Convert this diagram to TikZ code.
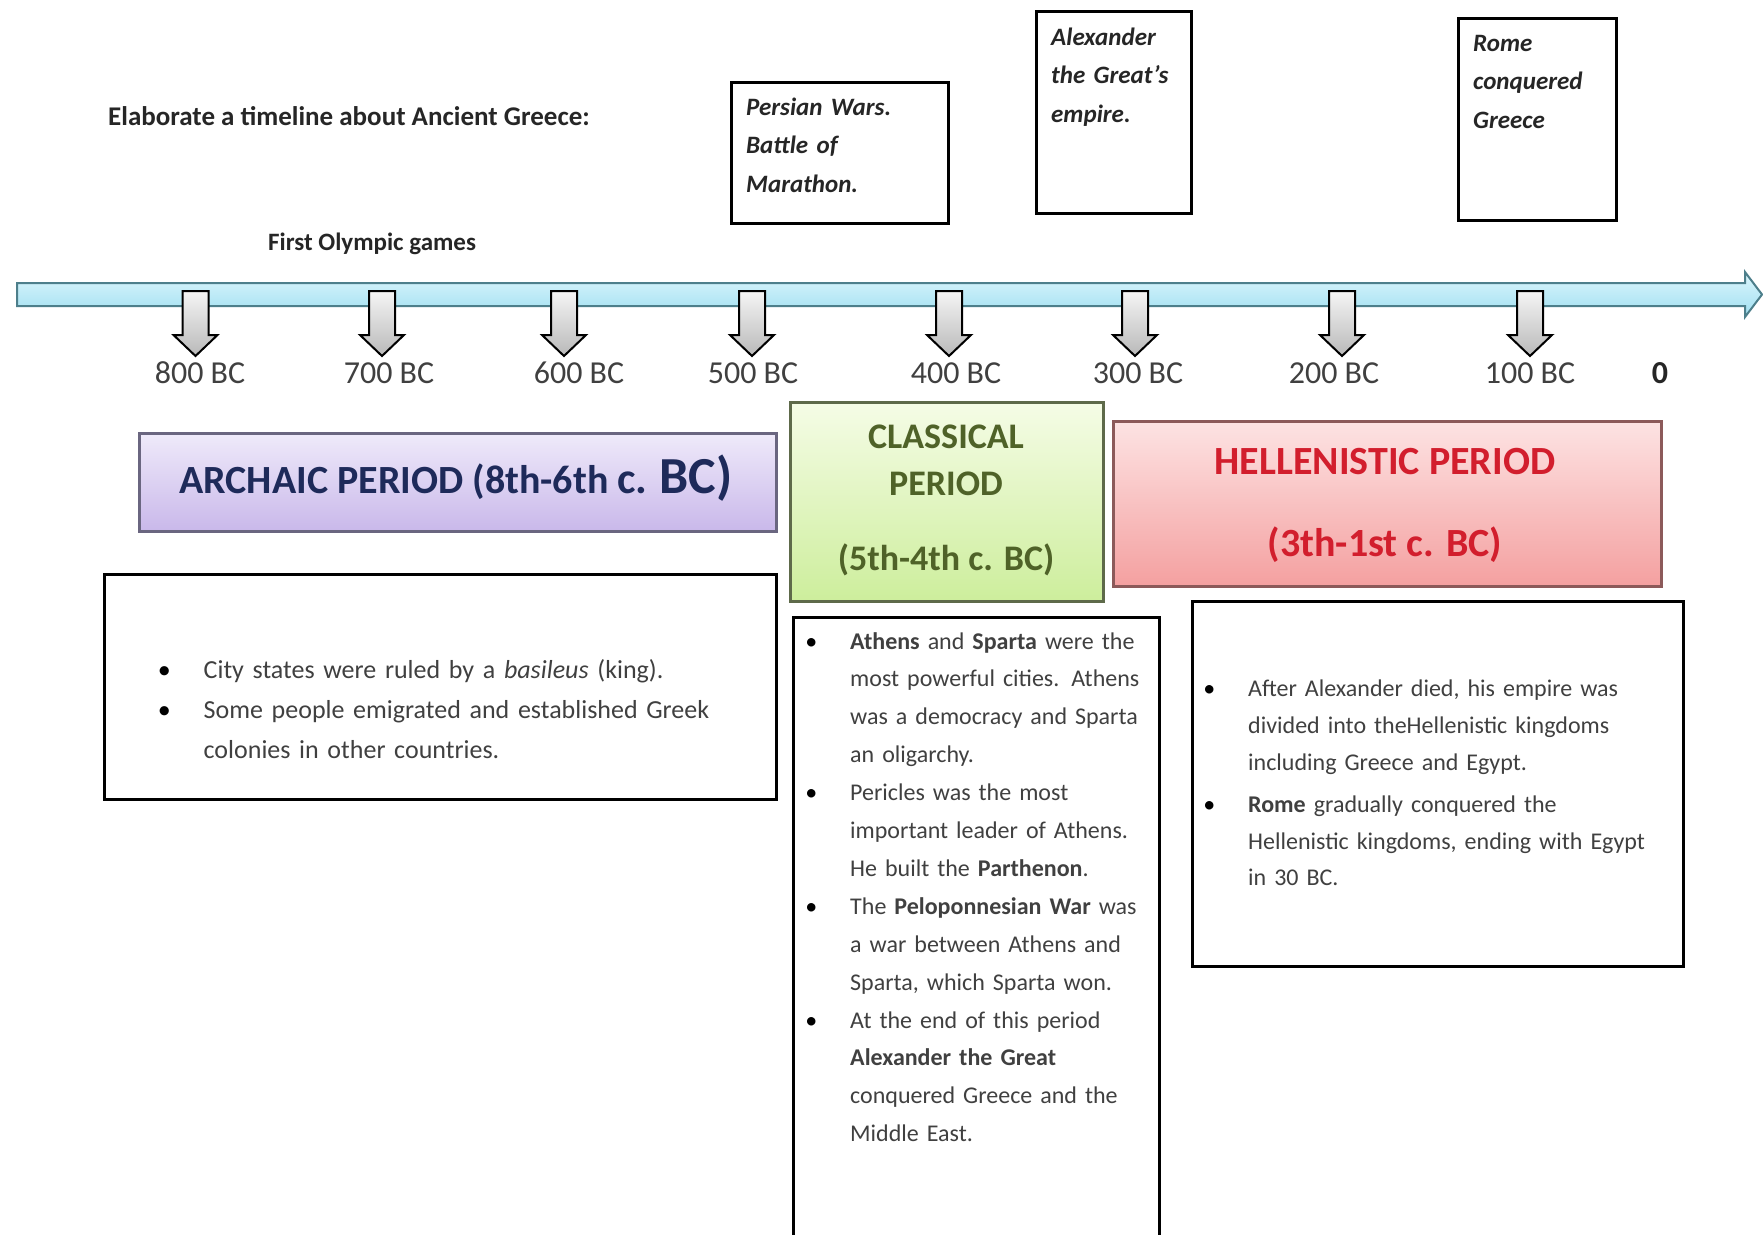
\documentclass[tikz,border=0pt]{standalone}
\usepackage{fontspec}
\setmainfont{Carlito}
\usetikzlibrary{shadings}
\definecolor{bandtop}{HTML}{DDF6FC}
\definecolor{bandbot}{HTML}{9FDFF1}
\definecolor{bandline}{HTML}{4D7F8B}
\definecolor{txtgray}{HTML}{404040}
\definecolor{txtdark}{HTML}{262626}
\definecolor{archtxt}{HTML}{1E2A5A}
\definecolor{classtxt}{HTML}{4F6228}
\definecolor{helltxt}{HTML}{D21E2D}
\definecolor{archtop}{HTML}{EFEAFA}
\definecolor{archbot}{HTML}{C9B8EA}
\definecolor{archline}{HTML}{6A6680}
\definecolor{classtop}{HTML}{F5FCE6}
\definecolor{classbot}{HTML}{CDEE9C}
\definecolor{classline}{HTML}{5E6A4A}
\definecolor{helltop}{HTML}{FDE3E3}
\definecolor{hellbot}{HTML}{F4A0A0}
\definecolor{hellline}{HTML}{8C5A5A}
\newcommand{\fs}[2]{\fontsize{#1}{#2}\selectfont}
\newcommand{\bul}{\leavevmode\llap{\textcolor{black}{\textbullet}\hspace{33pt}}}
\tikzset{
  evbox/.style={draw=black, line width=2.5pt, fill=white, inner sep=0pt, anchor=north west},
  evtext/.style={font=\fs{25}{38.5}\bfseries\itshape, text=txtdark, align=left, text width=200pt, inner sep=0pt, anchor=base west},
  txtbox/.style={draw=black, line width=2.5pt, fill=white, inner sep=0pt, anchor=north west},
  bodytxt/.style={font=\fs{24}{37.9}, text=txtgray, align=left, text width=600pt, inner sep=0pt, anchor=base west},
  yearlab/.style={font=\fs{32}{36}, text=txtgray, inner sep=0pt, anchor=base},
  downarrow/.style={draw=black, line width=2pt, top color=gray!8, bottom color=gray!55},
  band/.style={draw=bandline, line width=2pt, top color=bandtop, bottom color=bandbot},
  archbox/.style={draw=archline, line width=2.5pt, top color=archtop, bottom color=archbot, inner sep=0pt, anchor=north west},
  classbox/.style={draw=classline, line width=2.5pt, top color=classtop, bottom color=classbot, inner sep=0pt, anchor=north west},
  hellbox/.style={draw=hellline, line width=2.5pt, top color=helltop, bottom color=hellbot, inner sep=0pt, anchor=north west},
  headtxt/.style={inner sep=0pt, anchor=base, font=\bfseries}
}
\begin{document}
\begin{tikzpicture}[x=1pt,y=-1pt]
\useasboundingbox (0,0) rectangle (1763,1234);
\fill[white] (0,0) rectangle (1763,1234);

% title texts
\node[anchor=base west, inner sep=0pt, font=\fs{27}{32}\bfseries, text=txtdark] (title) at (108,125) {Elaborate a timeline about Ancient Greece:};
\node[anchor=base west, inner sep=0pt, font=\fs{25}{30}\bfseries, text=txtdark] (olymp) at (268,250) {First Olympic games};

% event boxes
\node[evbox, minimum width=217pt, minimum height=141pt] (persbox) at (730,81) {};
\node[evtext] (perstxt) at (746,115) {Persian Wars.\\Battle of\\Marathon.};
\node[evbox, minimum width=155pt, minimum height=202pt] (alexbox) at (1035,10) {};
\node[evtext] (alextxt) at (1051,45) {Alexander\\the Great's\\empire.};
\node[evbox, minimum width=158pt, minimum height=202pt] (romebox) at (1457,17) {};
\node[evtext] (rometxt) at (1473,51) {Rome\\conquered\\Greece};

% timeline band
\draw[band] (17,283) -- (1745,283) -- (1745,272) -- (1762,294.5) -- (1745,317) -- (1745,306) -- (17,306) -- cycle;

% down arrows and year labels
\foreach \ax/\lx/\yr [count=\i] in {195.5/200/800, 382/389/700, 564/579/600, 752/753/500, 949/956/400, 1135/1138/300, 1342/1334/200, 1530/1530/100}{
  \draw[downarrow] ({\ax-13},291) -- ({\ax+13},291) -- ({\ax+13},335) -- ({\ax+22},335) -- (\ax,356) -- ({\ax-22},335) -- ({\ax-13},335) -- cycle;
  \node[yearlab] (yr\i) at (\lx,383) {\yr\ BC};
}
\node[yearlab, font=\fs{32}{36}\bfseries, text=txtdark] (zero) at (1660,383) {0};

% period boxes
\node[archbox, minimum width=637pt, minimum height=98pt] (arch) at (138,432) {};
\node[headtxt, text=archtxt] (archtxt) at (456,493) {\fs{40}{44}ARCHAIC PERIOD (8th-6th {\fs{44}{48}c.} {\fs{52}{56}BC)}};

\node[classbox, minimum width=313pt, minimum height=199pt] (class) at (789,401) {};
\node[headtxt, text=classtxt, font=\fs{36}{40}\bfseries] (classA) at (946,448) {CLASSICAL};
\node[headtxt, text=classtxt, font=\fs{36}{40}\bfseries] (classB) at (946,495) {PERIOD};
\node[headtxt, text=classtxt, font=\fs{36}{40}\bfseries] (classC) at (946,570) {(5th-4th c. BC)};

\node[hellbox, minimum width=548pt, minimum height=165pt] (hell) at (1112,420) {};
\node[headtxt, text=helltxt, font=\fs{40}{44}\bfseries] (hellA) at (1385,474) {HELLENISTIC PERIOD};
\node[headtxt, text=helltxt, font=\fs{40}{44}\bfseries] (hellB) at (1385,556) {(3th-1st c. BC)};

% text boxes
\node[txtbox, minimum width=672pt, minimum height=225pt] (archbody) at (103,573) {};
\node[bodytxt, font=\fs{26}{40}] (archlist) at (203.5,678) {\bul City states were ruled by a \textit{basileus} (king).\\\bul Some people emigrated and established Greek\\colonies in other countries.};

\node[txtbox, minimum width=366pt, minimum height=625pt] (classbody) at (792,616) {};
\node[bodytxt] (classlist) at (850,649) {\bul\textbf{Athens} and \textbf{Sparta} were the\\most powerful cities. Athens\\was a democracy and Sparta\\an oligarchy.\\\bul Pericles was the most\\important leader of Athens.\\He built the \textbf{Parthenon}.\\\bul The \textbf{Peloponnesian War} was\\a war between Athens and\\Sparta, which Sparta won.\\\bul At the end of this period\\\textbf{Alexander the Great}\\conquered Greece and the\\Middle East.};

\node[txtbox, minimum width=491pt, minimum height=365pt] (hellbody) at (1191,600) {};
\node[bodytxt, font=\fs{24}{37.2}] (helllistA) at (1248,696.5) {\bul After Alexander died, his empire was\\divided into theHellenistic kingdoms\\including Greece and Egypt.};
\node[bodytxt, font=\fs{24}{36.5}] (helllistB) at (1248,812.5) {\bul\textbf{Rome} gradually conquered the\\Hellenistic kingdoms, ending with Egypt\\in 30 BC.};
\end{tikzpicture}
\end{document}
